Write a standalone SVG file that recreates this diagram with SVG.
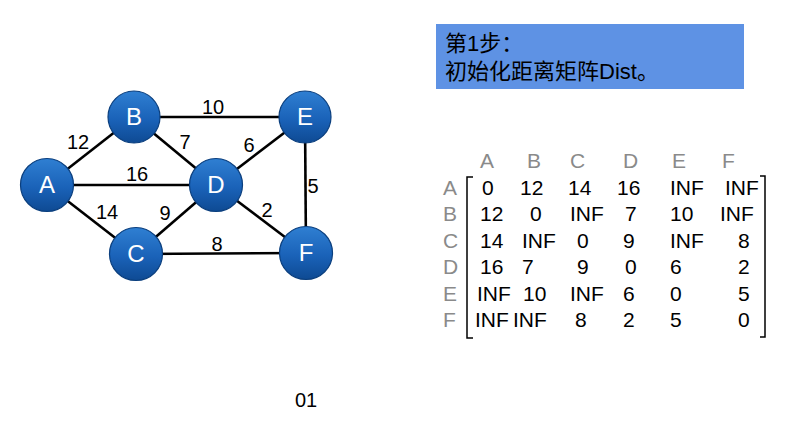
<svg xmlns="http://www.w3.org/2000/svg" width="798" height="448" viewBox="0 0 798 448">
<defs>
<linearGradient id="ng" x1="0" y1="0" x2="0" y2="1">
<stop offset="0" stop-color="#2f7fd2"/>
<stop offset="0.55" stop-color="#1a62b8"/>
<stop offset="1" stop-color="#0e4a93"/>
</linearGradient>
</defs>
<style>
.node circle{fill:url(#ng);stroke:#0b3f7e;stroke-width:1.2}
.node text{fill:#fff;font-family:"Liberation Sans",Arial,sans-serif;font-size:24px;text-anchor:middle}
.edge{stroke:#000;stroke-width:2.6}
.el{font-family:"Liberation Sans",Arial,sans-serif;font-size:20px;fill:#000;text-anchor:middle}
.m{font-family:"Liberation Sans",Arial,sans-serif;font-size:21px;fill:#000}
.h{font-family:"Liberation Sans",Arial,sans-serif;font-size:21px;fill:#8a8a8a}
.t{font-family:"Liberation Sans","Noto Sans CJK SC",sans-serif;font-size:22px;fill:#000}
</style>
<rect width="798" height="448" fill="#fff"/>
<g id="connectors">
<line class="edge" x1="47" y1="185" x2="134" y2="117"/>
<line class="edge" x1="47" y1="185" x2="216" y2="185"/>
<line class="edge" x1="47" y1="185" x2="136" y2="254"/>
<line class="edge" x1="134" y1="117" x2="305" y2="117"/>
<line class="edge" x1="134" y1="117" x2="216" y2="185"/>
<line class="edge" x1="216" y1="185" x2="305" y2="117"/>
<line class="edge" x1="216" y1="185" x2="136" y2="254"/>
<line class="edge" x1="216" y1="185" x2="306" y2="253"/>
<line class="edge" x1="305" y1="117" x2="306" y2="253"/>
<line class="edge" x1="136" y1="254" x2="306" y2="253"/>
<text class="el" x="78" y="149">12</text>
<text class="el" x="213" y="114">10</text>
<text class="el" x="185" y="149">7</text>
<text class="el" x="249" y="152">6</text>
<text class="el" x="137" y="181">16</text>
<text class="el" x="313" y="193">5</text>
<text class="el" x="107" y="219">14</text>
<text class="el" x="165" y="220">9</text>
<text class="el" x="267" y="217">2</text>
<text class="el" x="217" y="251">8</text>
</g>
<g id="node-A" class="node"><circle cx="47" cy="185" r="26.5"/><text x="47" y="193">A</text></g>
<g id="node-B" class="node"><circle cx="134" cy="117" r="26"/><text x="134" y="125">B</text></g>
<g id="node-E" class="node"><circle cx="305" cy="117" r="26"/><text x="305" y="125">E</text></g>
<g id="node-D" class="node"><circle cx="216" cy="185" r="26.5"/><text x="216" y="193">D</text></g>
<g id="node-C" class="node"><circle cx="136" cy="254" r="26.5"/><text x="136" y="262">C</text></g>
<g id="node-F" class="node"><circle cx="306" cy="253" r="26.5"/><text x="306" y="261">F</text></g>
<g id="title">
<rect x="436" y="24" width="308" height="65" fill="#5e92e4"/>
<text class="t" x="445" y="51">第1步：</text>
<text class="t" x="445" y="79">初始化距离矩阵Dist。</text>
</g>
<g id="matrix">
<text class="h" x="480" y="168">A</text>
<text class="h" x="527" y="168">B</text>
<text class="h" x="570" y="168">C</text>
<text class="h" x="623" y="168">D</text>
<text class="h" x="672" y="168">E</text>
<text class="h" x="722" y="168">F</text>
<text class="h" x="443" y="195">A</text>
<text class="h" x="443" y="221">B</text>
<text class="h" x="443" y="248">C</text>
<text class="h" x="443" y="274">D</text>
<text class="h" x="443" y="301">E</text>
<text class="h" x="443" y="327">F</text>
<path d="M473 177 H467 V338 H473" fill="none" stroke="#000" stroke-width="1.5"/>
<path d="M760 176 H765 V337 H760" fill="none" stroke="#000" stroke-width="1.5"/>
<text class="m" y="195"><tspan x="482">0</tspan><tspan x="520">12</tspan><tspan x="568">14</tspan><tspan x="617">16</tspan><tspan x="670">INF</tspan><tspan x="725">INF</tspan></text>
<text class="m" y="221"><tspan x="480">12</tspan><tspan x="530">0</tspan><tspan x="570">INF</tspan><tspan x="625">7</tspan><tspan x="670">10</tspan><tspan x="720">INF</tspan></text>
<text class="m" y="248"><tspan x="480">14</tspan><tspan x="522">INF</tspan><tspan x="577">0</tspan><tspan x="623">9</tspan><tspan x="670">INF</tspan><tspan x="738">8</tspan></text>
<text class="m" y="274"><tspan x="480">16</tspan><tspan x="522">7</tspan><tspan x="577">9</tspan><tspan x="625">0</tspan><tspan x="670">6</tspan><tspan x="738">2</tspan></text>
<text class="m" y="301"><tspan x="477">INF</tspan><tspan x="523">10</tspan><tspan x="570">INF</tspan><tspan x="623">6</tspan><tspan x="670">0</tspan><tspan x="738">5</tspan></text>
<text class="m" y="327"><tspan x="475">INF</tspan><tspan x="513">INF</tspan><tspan x="575">8</tspan><tspan x="623">2</tspan><tspan x="670">5</tspan><tspan x="738">0</tspan></text>
</g>
<text class="el" x="306" y="407">01</text>
</svg>
